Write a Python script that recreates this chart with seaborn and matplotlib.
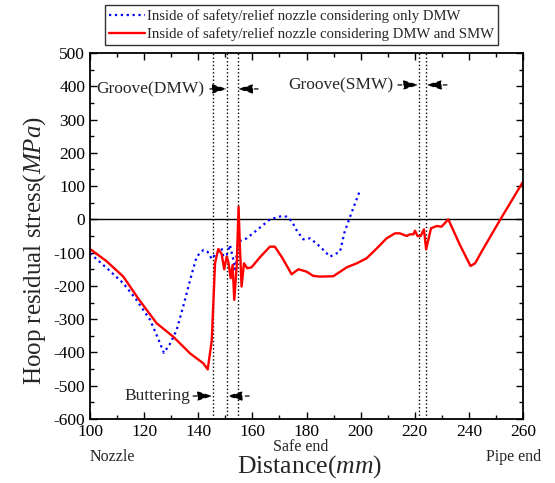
import numpy as np
import pandas as pd
import matplotlib
matplotlib.use("Agg")
import matplotlib.pyplot as plt
import seaborn as sns

# ---- data ----
dmw_x = [100, 106, 112.3, 117, 122.2, 125, 127.3, 129.5, 132, 134.5, 137, 139.4, 141.9, 143.5, 145,
         146.3, 147.4, 148.6, 149.3, 150.5, 151.7, 152.7, 153.6, 154.8, 157.9, 162, 166.5, 170.8,
         172.7, 174.5, 176.5, 178.8, 181.4, 185, 188.7, 192.4, 194, 196.1, 199.8]
dmw_y = [-102, -145, -192, -240, -302, -355, -401, -375, -333, -260, -182, -112, -92, -98, -119,
         -105, -97, -87, -112, -107, -77, -112, -150, -67, -57, -30, 0, 10,
         8, -5, -35, -60, -57, -82, -112, -97, -40, 8, 88]

smw_x = [100, 106, 112.3, 118, 124.6, 130.8, 137, 141.9, 143.5, 145, 146.2, 147.4, 148.6, 149.6,
         150.5, 151.1, 152, 152.7, 153.3, 154.2, 154.9, 155.4, 156, 156.9, 158.1, 159.7, 163,
         166.5, 168.3, 171, 174.5, 177, 180, 182.5, 185, 189.9, 194.9, 198.6, 202.2, 206, 209.6,
         212.7, 214.5, 217, 218.2, 219.5, 220.1, 221, 222.2, 223.4, 224.2, 226, 228.1, 229.9,
         232.4, 236.7, 240.6, 242.3, 244.7, 251.5, 260]
smw_y = [-89, -125, -172, -240, -312, -353, -403, -433, -451, -363, -132, -89, -103, -150,
         -112, -127, -177, -137, -242, -142, 38, -83, -202, -132, -147, -144, -112,
         -82, -82, -115, -165, -150, -157, -170, -172, -171, -144, -132, -117, -87, -57,
         -42, -42, -50, -45, -45, -34, -50, -50, -30, -90, -27, -20, -22,
         0, -77, -140, -132, -97, -2, 113]

dmw_lines = [145.3, 150.7, 154.6]
smw_lines = [221.4, 224.3]

x_ticks = list(range(100, 261, 20))
y_ticks = list(range(-600, 501, 100))

legend_labels = ["Inside of safety/relief nozzle considering only DMW",
                 "Inside of safety/relief nozzle considering DMW and SMW"]

# ---- style ----
sns.set_style("ticks")
plt.rcParams["font.family"] = ["Liberation Serif", "DejaVu Serif"]
plt.rcParams["mathtext.fontset"] = "custom"
plt.rcParams["mathtext.rm"] = "Liberation Serif"
plt.rcParams["mathtext.it"] = "Liberation Serif:italic"
plt.rcParams["axes.unicode_minus"] = False

fig = plt.figure(figsize=(5.55, 4.83), dpi=100)
ax = fig.add_axes([90 / 555, 1 - 419 / 483, 433 / 555, 366 / 483])

df1 = pd.DataFrame({"x": dmw_x, "y": dmw_y})
df2 = pd.DataFrame({"x": smw_x, "y": smw_y})

sns.lineplot(data=df1, x="x", y="y", ax=ax, color="#0000ff", linestyle=":", linewidth=1.6,
             sort=False, estimator=None, label=legend_labels[0], legend=False)
sns.lineplot(data=df2, x="x", y="y", ax=ax, color="#ff0000", linestyle="-", linewidth=1.7,
             sort=False, estimator=None, label=legend_labels[1], legend=False)

ax.axhline(0, color="black", linewidth=1.0, zorder=1)
for v in dmw_lines + smw_lines:
    ax.axvline(v, color="black", linestyle=":", linewidth=1.0, zorder=1)

ax.set_xlim(100, 260)
ax.set_ylim(-600, 500)
ax.set_xticks(x_ticks)
ax.set_yticks(y_ticks)
ax.set_xticks(list(range(110, 260, 20)), minor=True)
ax.set_yticks(list(range(-550, 500, 100)), minor=True)
ax.tick_params(which="both", direction="in", top=True, right=True, labelsize=12.5, width=1,
               colors="black")
ax.tick_params(which="major", length=5)
ax.tick_params(which="minor", length=3)
for s in ax.spines.values():
    s.set_linewidth(1.3)
    s.set_color("black")

ax.set_xlabel("")
ax.set_ylabel("Hoop residual stress($MPa$)", fontsize=18)
ax.yaxis.set_label_coords(-0.097, 0.46)

# bottom labels
fig.text(90 / 555, 1 - 457 / 483, "Nozzle", fontsize=11.5, ha="left", va="center")
fig.text(301 / 555, 1 - 447 / 483, "Safe end", fontsize=11.5, ha="center", va="center")
fig.text(514 / 555, 1 - 457 / 483, "Pipe end", fontsize=11.5, ha="center", va="center")
fig.text(310 / 555, 1 - 467 / 483, "Distance($mm$)", fontsize=18.5, ha="center", va="center")

# annotations
arrow_kw = dict(arrowstyle="-|>,head_length=0.9,head_width=0.28", linestyle=(0, (3, 3)),
                linewidth=0.9, color="black", shrinkA=0, shrinkB=0)

ax.text(102.2, 392, "Groove(DMW)", fontsize=12.5, ha="left", va="center")
ax.annotate("", xy=(150.7, 392), xytext=(144.3, 392), arrowprops=arrow_kw)
ax.annotate("", xy=(154.6, 392), xytext=(162.1, 392), arrowprops=arrow_kw)

ax.text(173.2, 404, "Groove(SMW)", fontsize=12.5, ha="left", va="center")
ax.annotate("", xy=(221.4, 404), xytext=(213.8, 404), arrowprops=arrow_kw)
ax.annotate("", xy=(224.3, 404), xytext=(231.9, 404), arrowprops=arrow_kw)

ax.text(112.9, -531, "Buttering", fontsize=12.5, ha="left", va="center")
ax.annotate("", xy=(145.3, -531), xytext=(138.1, -531), arrowprops=arrow_kw)
ax.annotate("", xy=(150.7, -531), xytext=(158.8, -531), arrowprops=arrow_kw)

handles, labels = ax.get_legend_handles_labels()
leg = fig.legend(handles, labels, loc="upper left", bbox_to_anchor=(105 / 555, 1 - 5 / 483),
                 fontsize=10.6, frameon=True, fancybox=False, edgecolor="black",
                 handlelength=2.4, handletextpad=0.15, borderpad=0.3, labelspacing=0.25,
                 borderaxespad=0)
leg.get_frame().set_linewidth(1.0)

fig.savefig("out.png", dpi=100)
